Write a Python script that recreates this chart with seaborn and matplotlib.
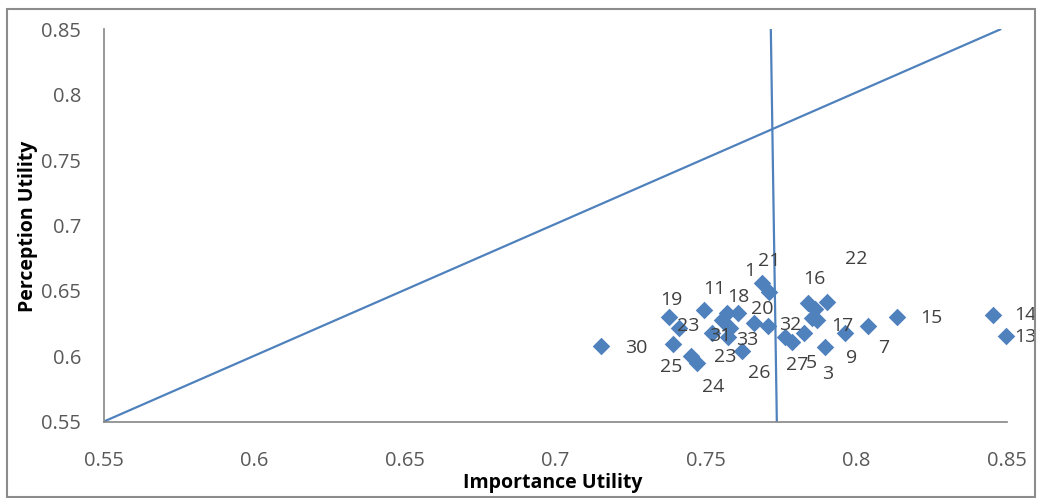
import matplotlib
matplotlib.use("Agg")
import matplotlib.pyplot as plt
import seaborn as sns
import pandas as pd
from matplotlib.patches import Rectangle

# ---- data ----
importance = [0.7153, 0.7379, 0.7413, 0.7391, 0.7452, 0.7473, 0.7494, 0.7570,
              0.7609, 0.7554, 0.7581, 0.7521, 0.7576, 0.7620, 0.7661, 0.7708,
              0.7687, 0.7712, 0.7764, 0.7786, 0.7827, 0.7839, 0.7903, 0.7864,
              0.7853, 0.7871, 0.7897, 0.7963, 0.8041, 0.8135, 0.8456, 0.8498]
perception = [0.6079, 0.6303, 0.6214, 0.6094, 0.6002, 0.5946, 0.6354, 0.6329,
              0.6329, 0.6278, 0.6214, 0.6176, 0.6150, 0.6040, 0.6256, 0.6235,
              0.6558, 0.6494, 0.6150, 0.6112, 0.6180, 0.6405, 0.6418, 0.6359,
              0.6291, 0.6278, 0.6073, 0.6176, 0.6232, 0.6303, 0.6316, 0.6155]

label_texts = ["30", "19", "23", "25", "11", "24", "23", "31", "1", "21", "22",
               "16", "18", "20", "32", "17", "33", "27", "5", "3", "9", "26",
               "7", "15", "14", "13"]
label_x = [0.7271, 0.7388, 0.7441, 0.7385, 0.7528, 0.7524, 0.7565, 0.7548,
           0.7648, 0.7712, 0.8000, 0.7862, 0.7609, 0.7689, 0.7781, 0.7956,
           0.7637, 0.7803, 0.7850, 0.7906, 0.7986, 0.7679, 0.8093, 0.8251,
           0.8561, 0.8561]
label_y = [0.6066, 0.6430, 0.6232, 0.5920, 0.6515, 0.5768, 0.5997, 0.6155,
           0.6654, 0.6731, 0.6742, 0.6589, 0.6456, 0.6359, 0.6239, 0.6232,
           0.6125, 0.5933, 0.5951, 0.5865, 0.5985, 0.5870, 0.6061, 0.6291,
           0.6316, 0.6150]

diag_x = [0.55, 0.848]
diag_y = [0.55, 0.85]
vert_x = [0.7717, 0.7737]
vert_y = [0.85, 0.55]

x_ticks = [0.55, 0.6, 0.65, 0.7, 0.75, 0.8, 0.85]
y_ticks = [0.55, 0.6, 0.65, 0.7, 0.75, 0.8, 0.85]
x_ticklabels = ["0.55", "0.6", "0.65", "0.7", "0.75", "0.8", "0.85"]
y_ticklabels = ["0.55", "0.6", "0.65", "0.7", "0.75", "0.8", "0.85"]

# ---- style ----
sns.set_style("white")
plt.rcParams["font.family"] = ["Open Sans", "DejaVu Sans"]

BLUE = "#4F81BD"
W, H = 1037, 498
fig = plt.figure(figsize=(W / 100, H / 100), dpi=100)
ax = fig.add_axes([103.5 / W, 1 - 421.7 / H, (1006.5 - 103.5) / W, (421.7 - 29.3) / H])

df = pd.DataFrame({"Importance Utility": importance, "Perception Utility": perception})
sns.scatterplot(data=df, x="Importance Utility", y="Perception Utility", ax=ax,
                marker="D", s=80, color=BLUE, edgecolor=BLUE, linewidth=0,
                clip_on=False, zorder=3)
sns.lineplot(x=diag_x, y=diag_y, ax=ax, color=BLUE, linewidth=1.6, sort=False, zorder=2)
sns.lineplot(x=vert_x, y=vert_y, ax=ax, color=BLUE, linewidth=1.6, sort=False,
             orient="y", zorder=2)

for t, lx, ly in zip(label_texts, label_x, label_y):
    ax.text(lx, ly, t, ha="center", va="center", fontsize=14, color="#404040",
            clip_on=False, zorder=4)

ax.set_xlim(0.55, 0.85)
ax.set_ylim(0.55, 0.85)
ax.set_xticks(x_ticks)
ax.set_xticklabels(x_ticklabels)
ax.set_yticks(y_ticks)
ax.set_yticklabels(y_ticklabels)
ax.tick_params(axis="both", direction="in", length=5, width=1, color="#868686",
               labelsize=14.5, labelcolor="#595959")
ax.tick_params(axis="x", pad=21)
ax.tick_params(axis="y", pad=16)
for s in ["top", "right"]:
    ax.spines[s].set_visible(False)
for s in ["left", "bottom"]:
    ax.spines[s].set_color("#868686")
    ax.spines[s].set_linewidth(1.2)
ax.set_xlabel("")
ax.set_ylabel("")

fig.text(553 / W, 1 - 483 / H, "Importance Utility", ha="center", va="center",
         fontsize=14, fontweight="bold", color="#000000")
fig.text(28 / W, 1 - 226 / H, "Perception Utility", ha="center", va="center",
         rotation=90, fontsize=14, fontweight="bold", color="#000000")

fig.patches.append(Rectangle((7 / W, 1 / H), (1035 - 7) / W, (489 - 1) / H,
                             transform=fig.transFigure, fill=False,
                             edgecolor="#8C8C8C", linewidth=1.5))

fig.savefig("out.png", dpi=100)
